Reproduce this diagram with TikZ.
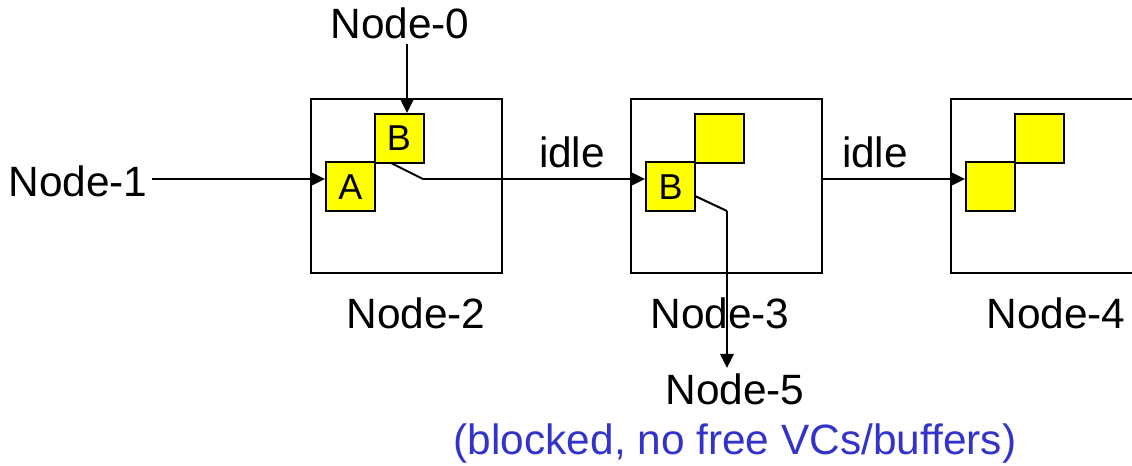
\documentclass[tikz,border=0pt]{standalone}
\usepackage{fontspec}
\setmainfont{Liberation Sans}
\usetikzlibrary{arrows.meta}
\definecolor{vcyellow}{RGB}{255,255,0}
\definecolor{noteblue}{RGB}{51,51,204}
\begin{document}
\begin{tikzpicture}[x=0.75pt,y=-0.75pt,
  router/.style={draw,line width=1.5pt,minimum width=143.25pt,minimum height=130.5pt,inner sep=0pt},
  vc/.style={draw,fill=vcyellow,line width=1.5pt,minimum size=36.75pt,inner sep=0pt,font=\fontsize{27}{30}\selectfont},
  lbl/.style={font=\fontsize{31.8}{36}\selectfont,inner sep=0pt,anchor=base},
  wire/.style={line width=1.5pt},
  arr/.style={line width=1.5pt,-{Triangle[length=10.5pt,width=10pt]}}]
\useasboundingbox (0,0) rectangle (1132,466);
% routers
\node[router] (r2) at (406.5,186) {};
\node[router] (r3) at (726.5,186) {};
\node[router] (r4) at (1046.5,186) {};
% virtual channels
\node[vc] (A2) at (350.5,187) {A};
\node[vc] (B2) at (399,138.5) {B};
\node[vc] (B3) at (670.5,187) {B};
\node[vc] (U3) at (719.5,138.5) {};
\node[vc] (L4) at (990.5,187) {};
\node[vc] (U4) at (1039.5,138.5) {};
% labels
\node[lbl] (n0) at (400,39) {Node-0};
\node[lbl] (n1) at (78,197) {Node-1};
\node[lbl] (n2) at (416,329) {Node-2};
\node[lbl] (n3) at (720,329) {Node-3};
\node[lbl] (n4) at (1056,329) {Node-4};
\node[lbl] (n5) at (735,405) {Node-5};
\node[lbl,text=noteblue] (note) at (735,455) {(blocked, no free VCs/buffers)};
\node[lbl] (idleA) at (572,168) {idle};
\node[lbl] (idleB) at (875,168) {idle};
% helper coordinates
\coordinate (b2out) at (391,163);
\coordinate (bend2) at (423,179);
\coordinate (b3out) at (695,196);
\coordinate (bend3) at (727,211);
\coordinate (n5in) at (727,368);
% connectors
\draw[arr] (n1.east |- 0,179) ++(4,0) -- (A2.west |- 0,179);
\draw[arr] (407,44) -- (B2.north -| 407,0);
\draw[wire] (b2out) -- (bend2);
\draw[arr] (bend2) -- (B3.west |- bend2);
\draw[wire] (b3out) -- (bend3);
\draw[arr] (bend3) -- (n5in);
\draw[arr] (r3.east |- 0,179) -- (L4.west |- 0,179);
\end{tikzpicture}
\end{document}
